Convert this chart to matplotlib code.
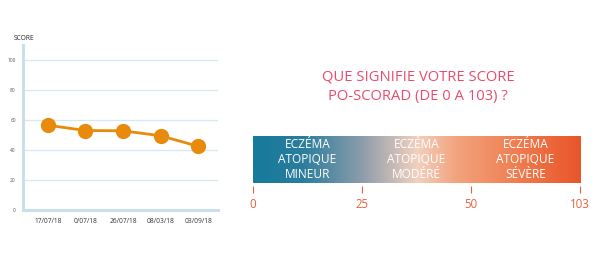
import matplotlib
matplotlib.use("Agg")
import matplotlib.pyplot as plt
import numpy as np
from matplotlib.colors import LinearSegmentedColormap

plt.rcParams['font.family'] = ['Open Sans', 'DejaVu Sans']

# ---- data ----
dates = ["17/07/18", "0/07/18", "26/07/18", "08/03/18", "03/09/18"]
scores = [56.5, 53, 52.8, 49.5, 42.5]
y_ticks = [0, 20, 40, 60, 80, 100]
scale_labels = ["0", "25", "50", "103"]
severity = ["ECZÉMA\nATOPIQUE\nMINEUR", "ECZÉMA\nATOPIQUE\nMODÉRÉ", "ECZÉMA\nATOPIQUE\nSÉVÈRE"]
title = "QUE SIGNIFIE VOTRE SCORE\nPO-SCORAD (DE 0 A 103) ?"

W, H = 600, 260
fig = plt.figure(figsize=(6, 2.6), dpi=100)
fig.patch.set_facecolor("white")

def px_axes(x0, y0, x1, y1):
    return fig.add_axes([x0 / W, 1 - y1 / H, (x1 - x0) / W, (y1 - y0) / H])

# ---- left line chart ----
ax = px_axes(22.7, 45, 218, 210)
xs = np.arange(len(dates))
ax.set_xlim(-0.67, len(dates) - 1 + 0.53)
ax.set_ylim(0, 110)
grid_c = "#D6E9F1"
for v in y_ticks[1:]:
    ax.axhline(v, color=grid_c, lw=0.9, zorder=0)
for s in ["top", "right"]:
    ax.spines[s].set_visible(False)
for s in ["left", "bottom"]:
    ax.spines[s].set_color("#C9E0EC")
    ax.spines[s].set_linewidth(2.2)
ax.plot(xs, scores, color="#E88A0B", lw=2.0, marker="o", markersize=11,
        markeredgewidth=0, zorder=3)
ax.set_yticks(y_ticks)
ax.set_yticklabels([str(v) for v in y_ticks], fontsize=3.5, color="#555555")
ax.set_xticks(xs)
ax.set_xticklabels(dates, fontsize=4.8, color="#333333")
ax.tick_params(axis="both", length=0, pad=5)
ax.tick_params(axis="x", pad=6)
fig.text(14 / W, 1 - 38 / H, "SCORE", fontsize=4.8, color="#222222",
         ha="left", va="center")

# ---- right title ----
fig.text(418 / W, 1 - 87 / H, title, fontsize=10.6, color="#E94B6C",
         ha="center", va="center", linespacing=1.45)

# ---- gradient bar ----
bx = px_axes(253, 136, 580, 186)
n = len(severity)
bx.set_xlim(0, n)
bx.set_ylim(0, 1)
cmap = LinearSegmentedColormap.from_list("scorad", [
    (0.0, "#167A9C"), (0.15, "#2A7D9C"), (0.33, "#8C9CAB"),
    (0.5, "#F2D0BE"), (0.62, "#F3A47E"), (0.85, "#EE7446"), (1.0, "#E9552A")])
grad = np.linspace(0, 1, 512).reshape(1, -1)
bx.imshow(grad, cmap=cmap, aspect="auto", extent=(0, n, 0.06, 1), zorder=1)
for i, lab in enumerate(severity):
    bx.text(i + 0.5, 0.53, lab, color="white", fontsize=8.6, ha="center",
            va="center", linespacing=1.22, zorder=2)
for s in bx.spines.values():
    s.set_visible(False)
bx.set_yticks([])
bx.set_xticks(np.arange(len(scale_labels)))
bx.set_xticklabels(scale_labels, fontsize=8.3, color="#E8603A")
bx.tick_params(axis="x", length=5.2, width=0.8, color="#E8603A", pad=3.5)

fig.savefig("out.png", dpi=100, facecolor="white")
